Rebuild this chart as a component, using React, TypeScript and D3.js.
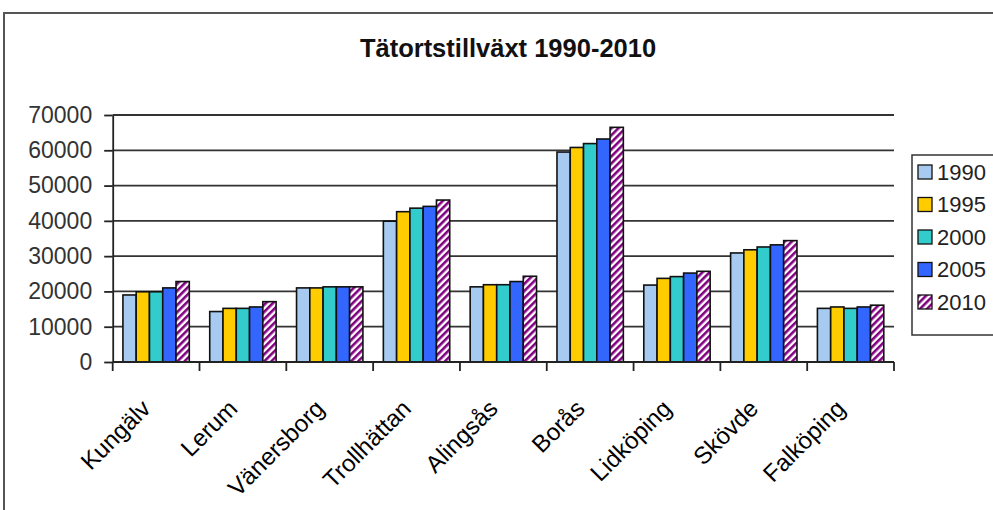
import React, { useEffect, useRef } from 'react';
import * as d3 from 'd3';

// Tätorter (urban areas) and population per year
const categories = [
  'Kungälv',
  'Lerum',
  'Vänersborg',
  'Trollhättan',
  'Alingsås',
  'Borås',
  'Lidköping',
  'Skövde',
  'Falköping',
];
const years = ['1990', '1995', '2000', '2005', '2010'];

const v1990 = [19000, 14300, 21000, 39900, 21300, 59500, 21800, 30900, 15200];
const v1995 = [19900, 15200, 21000, 42600, 21900, 60800, 23700, 31800, 15600];
const v2000 = [19900, 15200, 21300, 43600, 21900, 61900, 24200, 32600, 15200];
const v2005 = [21000, 15600, 21300, 44100, 22800, 63200, 25200, 33200, 15600];
const v2010 = [22800, 17100, 21300, 45900, 24300, 66500, 25700, 34400, 16100];

const yTicks = [0, 10000, 20000, 30000, 40000, 50000, 60000, 70000];

const title = 'Tätortstillväxt 1990-2010';

const fills = ['#a6caf0', '#ffcc00', '#33cccc', '#3366ff', 'url(#hatch2010)'];

const FONT = '"Liberation Sans", Arial, sans-serif';

const App = () => {
  const ref = useRef<SVGSVGElement | null>(null);

  useEffect(() => {
    const svg = d3.select(ref.current);
    svg.selectAll('*').remove();

    const series = [v1990, v1995, v2000, v2005, v2010];

    const left = 112.7;
    const right = 894;
    const top = 115;
    const bottom = 362;

    const y = d3.scaleLinear().domain([0, 70000]).range([bottom, top]);
    const x0 = d3.scaleBand().domain(categories).range([left, right]).padding(0);
    const x1 = d3
      .scaleBand()
      .domain(years)
      .range([0, x0.bandwidth()])
      .paddingInner(0)
      .paddingOuter(0.77);

    // hatch pattern for 2010
    const defs = svg.append('defs');
    const pat = defs
      .append('pattern')
      .attr('id', 'hatch2010')
      .attr('patternUnits', 'userSpaceOnUse')
      .attr('width', 5)
      .attr('height', 5)
      .attr('patternTransform', 'rotate(45)');
    pat.append('rect').attr('width', 5).attr('height', 5).attr('fill', '#fff');
    pat.append('rect').attr('width', 2.6).attr('height', 5).attr('fill', '#800080');

    // white background + outer frame
    svg.append('rect').attr('width', 993).attr('height', 510).attr('fill', '#fff');
    svg
      .append('path')
      .attr('d', 'M4,520 L4,13 L1000,13')
      .attr('fill', 'none')
      .attr('stroke', '#555')
      .attr('stroke-width', 2);

    // title
    svg
      .append('text')
      .attr('x', 508)
      .attr('y', 57)
      .attr('text-anchor', 'middle')
      .attr('font-family', FONT)
      .attr('font-weight', 'bold')
      .attr('font-size', 25.5)
      .attr('fill', '#111')
      .text(title);

    // gridlines
    svg
      .append('g')
      .selectAll('line')
      .data(yTicks.filter(t => t > 0))
      .enter()
      .append('line')
      .attr('x1', left)
      .attr('x2', right)
      .attr('y1', d => y(d))
      .attr('y2', d => y(d))
      .attr('stroke', '#333')
      .attr('stroke-width', 1.8);

    // y axis
    const yAxis = svg
      .append('g')
      .attr('transform', `translate(${left},0)`)
      .call(
        d3.axisLeft(y).tickValues(yTicks).tickSize(8.5).tickSizeOuter(0).tickPadding(12).tickFormat(d3.format('d'))
      );
    yAxis.select('.domain').attr('stroke', '#222').attr('stroke-width', 1.8);
    yAxis.selectAll('.tick line').attr('stroke', '#222').attr('stroke-width', 1.8);
    yAxis
      .selectAll('.tick text')
      .attr('font-family', FONT)
      .attr('font-size', 23)
      .attr('fill', '#333');

    // bars
    const groups = svg
      .append('g')
      .selectAll('g')
      .data(categories)
      .enter()
      .append('g')
      .attr('transform', d => `translate(${x0(d)},0)`);

    groups
      .selectAll('rect')
      .data((c, ci) => years.map((yr, si) => ({ yr, si, value: series[si][ci] })))
      .enter()
      .append('rect')
      .attr('x', d => x1(d.yr))
      .attr('y', d => y(d.value))
      .attr('width', x1.bandwidth())
      .attr('height', d => bottom - y(d.value))
      .attr('fill', d => fills[d.si])
      .attr('stroke', '#111')
      .attr('stroke-width', 1.6);

    // x axis line + ticks at category boundaries
    svg
      .append('line')
      .attr('x1', left)
      .attr('x2', right)
      .attr('y1', bottom)
      .attr('y2', bottom)
      .attr('stroke', '#222')
      .attr('stroke-width', 1.8);
    const bounds = categories.map(c => x0(c)).concat([right]);
    svg
      .append('g')
      .selectAll('line')
      .data(bounds)
      .enter()
      .append('line')
      .attr('x1', d => d)
      .attr('x2', d => d)
      .attr('y1', bottom)
      .attr('y2', bottom + 9)
      .attr('stroke', '#222')
      .attr('stroke-width', 1.8);

    // rotated category labels
    svg
      .append('g')
      .selectAll('text')
      .data(categories)
      .enter()
      .append('text')
      .attr('transform', d => `translate(${x0(d) + x0.bandwidth() / 2 - 4},410) rotate(-45)`)
      .attr('text-anchor', 'end')
      .attr('font-family', FONT)
      .attr('font-size', 24)
      .attr('fill', '#000')
      .text(d => d);

    // legend
    svg
      .append('rect')
      .attr('x', 912)
      .attr('y', 155)
      .attr('width', 100)
      .attr('height', 180)
      .attr('fill', '#fff')
      .attr('stroke', '#333')
      .attr('stroke-width', 1.5);
    const leg = svg
      .append('g')
      .selectAll('g')
      .data(years)
      .enter()
      .append('g')
      .attr('transform', (d, i) => `translate(918,${172 + i * 32.5})`);
    leg
      .append('rect')
      .attr('x', 0)
      .attr('y', -7)
      .attr('width', 14)
      .attr('height', 14)
      .attr('fill', (d, i) => fills[i])
      .attr('stroke', '#111')
      .attr('stroke-width', 1.3);
    leg
      .append('text')
      .attr('x', 19)
      .attr('y', 0)
      .attr('dy', '0.36em')
      .attr('font-family', FONT)
      .attr('font-size', 22)
      .attr('fill', '#222')
      .text(d => d);
  }, []);

  return (
    <svg
      ref={ref}
      width={993}
      height={510}
      style={{ position: 'absolute', left: 0, top: 0, display: 'block' }}
    ></svg>
  );
};

export default App;
